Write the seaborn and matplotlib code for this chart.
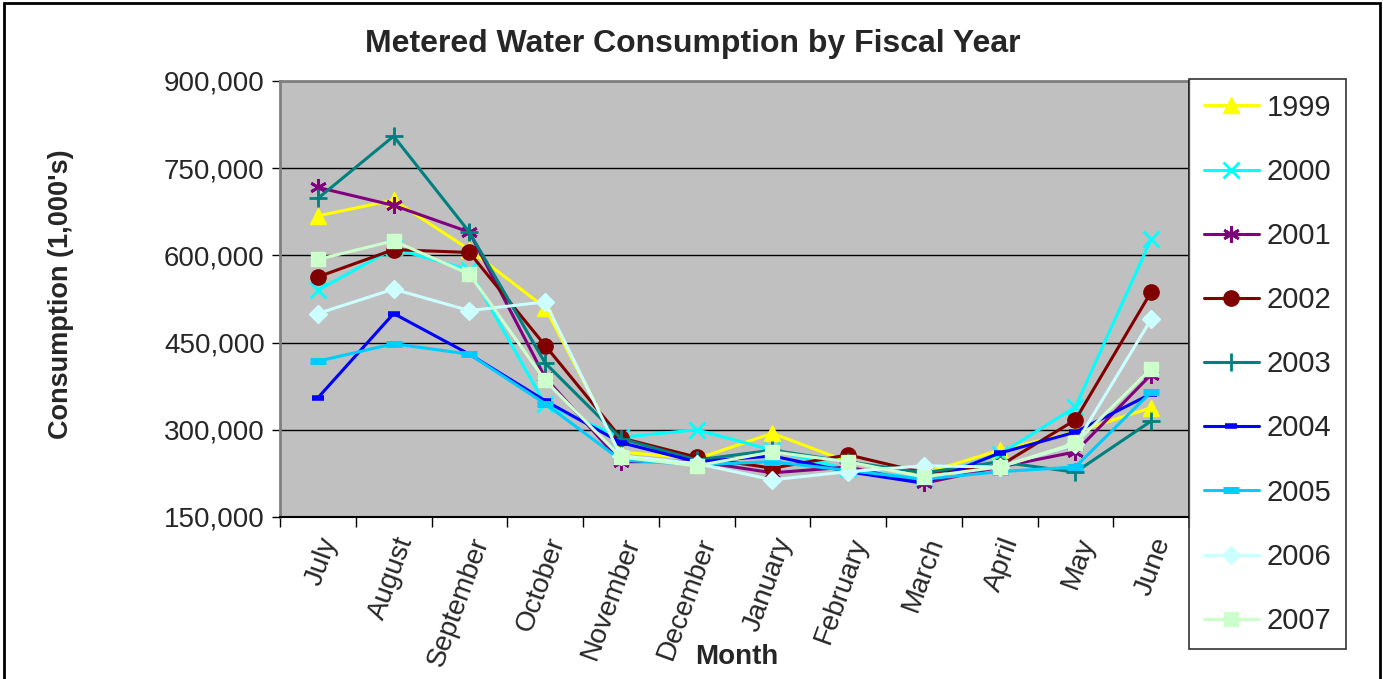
import seaborn as sns
import pandas as pd
import matplotlib.pyplot as plt
from matplotlib.patches import Rectangle

months = ["July", "August", "September", "October", "November", "December",
          "January", "February", "March", "April", "May", "June"]
years = ["1999", "2000", "2001", "2002", "2003", "2004", "2005", "2006", "2007"]

v1999 = [668000, 695000, 610000, 510000, 262000, 250000, 294000, 245000, 225000, 265000, 296000, 338000]
v2000 = [540000, 612000, 575000, 344000, 287000, 300000, 265000, 232000, 215000, 258000, 339000, 628000]
v2001 = [717000, 686000, 640000, 390000, 245000, 246000, 226000, 236000, 208000, 236000, 262000, 395000]
v2002 = [563000, 610000, 605000, 445000, 286000, 253000, 234000, 257000, 226000, 238000, 317000, 537000]
v2003 = [698000, 805000, 640000, 415000, 285000, 248000, 265000, 245000, 226000, 245000, 227000, 315000]
v2004 = [355000, 500000, 430000, 350000, 278000, 245000, 255000, 228000, 208000, 260000, 296000, 362000]
v2005 = [418000, 448000, 430000, 345000, 248000, 240000, 245000, 230000, 215000, 228000, 236000, 365000]
v2006 = [500000, 542000, 505000, 520000, 255000, 242000, 214000, 228000, 238000, 236000, 275000, 490000]
v2007 = [593000, 625000, 568000, 385000, 253000, 238000, 262000, 245000, 219000, 236000, 277000, 405000]
values = [v1999, v2000, v2001, v2002, v2003, v2004, v2005, v2006, v2007]

colors = ["#FFFF00", "#00FFFF", "#800080", "#800000", "#008080",
          "#0000FF", "#00CCFF", "#CCFFFF", "#CCFFCC"]
markers = ["^", "x", (6, 2, 0), "o", "+", "_", "_", "D", "s"]
msizes = [11, 11, 12, 11, 13, 8, 11, 9, 10]
mews = [1, 2, 2, 1, 2, 4, 5, 1, 1]

sns.set_style("white")
plt.rcParams['font.family'] = ['Liberation Sans', 'DejaVu Sans']

fig = plt.figure(figsize=(13.83, 6.79), dpi=100)
ax = fig.add_axes([280 / 1383, 1 - 517 / 679, 909 / 1383, 436 / 679])
ax.set_facecolor("#C0C0C0")

for yr, vals, c, m, ms, mew in zip(years, values, colors, markers, msizes, mews):
    df = pd.DataFrame({"Month": months, "Consumption": vals})
    sns.lineplot(data=df, x="Month", y="Consumption", ax=ax, color=c, marker=m,
                 markersize=ms, markeredgewidth=mew, markeredgecolor=c,
                 linewidth=2.2, label=yr, sort=False)

ax.set_ylim(150000, 900000)
ax.set_xlim(-0.5, 11.5)
ax.set_yticks(range(150000, 900001, 150000))
ax.set_yticklabels([f"{v:,}" for v in range(150000, 900001, 150000)], fontsize=20)
ax.yaxis.grid(True, color="black", linewidth=1)
ax.set_axisbelow(True)
ax.set_xticks(range(12))
ax.set_xticklabels(months, rotation=70, ha="right", rotation_mode="anchor", fontsize=20)
ax.set_xticks([i - 0.5 for i in range(13)], minor=True)
ax.tick_params(axis="x", which="major", length=0, pad=12)
ax.tick_params(axis="x", which="minor", length=7, width=1, color="black", bottom=True)
ax.tick_params(axis="y", length=6, width=1, color="black", left=True, pad=5)
for s in ["top", "right", "left"]:
    ax.spines[s].set_color("#808080")
    ax.spines[s].set_linewidth(2)
ax.spines["bottom"].set_color("black")
ax.spines["bottom"].set_linewidth(1.5)

ax.set_xlabel("")
ax.set_ylabel("")
fig.text(737 / 1383, 1 - 657 / 679, "Month", fontsize=20, fontweight="bold",
         ha="center", va="center")
fig.text(61 / 1383, 1 - 294 / 679, "Consumption (1,000's)", fontsize=19.5,
         fontweight="bold", rotation=90, ha="center", va="center")
fig.text(693 / 1383, 1 - 44 / 679, "Metered Water Consumption by Fiscal Year",
         fontsize=23, fontweight="bold", ha="center", va="center")

ax.get_legend().remove()
handles, labels = ax.get_legend_handles_labels()
leg = fig.legend(handles, labels, loc="upper left",
                 bbox_to_anchor=(1189 / 1383, 1 - 79 / 679), fontsize=21,
                 frameon=True, fancybox=False, edgecolor="black",
                 labelspacing=1.24, handlelength=1.9, handletextpad=0.25,
                 borderpad=0.5, borderaxespad=0)
leg.get_frame().set_linewidth(1.2)

fig.patches.append(Rectangle((4 / 1383, -0.01), 1376 / 1383, 1 - 3 / 679 + 0.01,
                             transform=fig.transFigure, fill=False,
                             edgecolor="black", linewidth=2))

fig.savefig("out.png", dpi=100)
